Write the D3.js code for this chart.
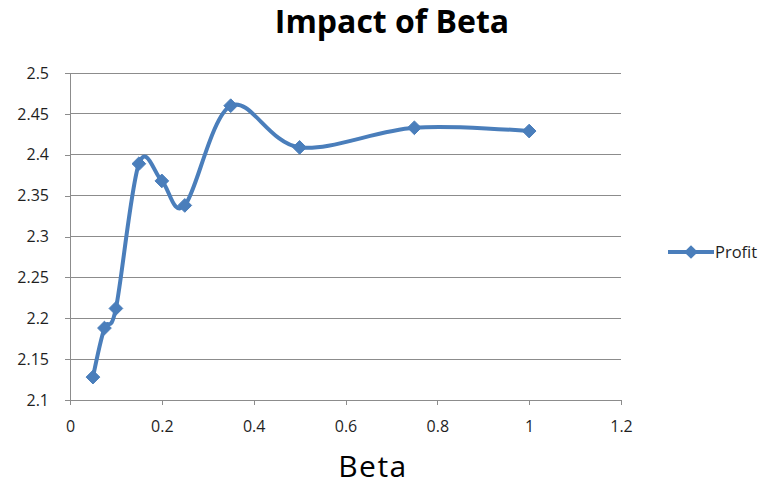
<!DOCTYPE html>
<html>
<head>
<meta charset="utf-8">
<script src="https://cdn.jsdelivr.net/npm/d3@7"></script>
<style>
  html, body { margin: 0; padding: 0; background: #fff; }
  svg { display: block; }
  text { font-family: "Open Sans", "Liberation Sans", sans-serif; }
</style>
</head>
<body>
<script>
// Profit as a function of Beta
const beta = [0.05, 0.075, 0.1, 0.15, 0.2, 0.25, 0.35, 0.5, 0.75, 1.0];
const profit = [2.128, 2.188, 2.212, 2.389, 2.368, 2.338, 2.460, 2.409, 2.433, 2.429];
const xTicks = [0, 0.2, 0.4, 0.6, 0.8, 1, 1.2];
const yTicks = [2.1, 2.15, 2.2, 2.25, 2.3, 2.35, 2.4, 2.45, 2.5];
const seriesName = "Profit";

const W = 769, H = 489;
const plot = { left: 70, right: 621, top: 73, bottom: 400 };
const blue = "#4A7EBB";
const gridColor = "#8c8c8c";

const svg = d3.select("body").append("svg").attr("width", W).attr("height", H);

const x = d3.scaleLinear().domain([0, 1.2]).range([plot.left, plot.right]);
const y = d3.scaleLinear().domain([2.1, 2.5]).range([plot.bottom, plot.top]);

// horizontal gridlines
svg.append("g").selectAll("line").data(yTicks.slice(1)).join("line")
  .attr("x1", plot.left).attr("x2", plot.right)
  .attr("y1", d => y(d)).attr("y2", d => y(d))
  .attr("stroke", gridColor).attr("stroke-width", 1).attr("shape-rendering", "crispEdges");

// y axis
const yAxis = svg.append("g").attr("transform", `translate(${plot.left},0)`)
  .call(d3.axisLeft(y).tickValues(yTicks).tickFormat(d3.format("")).tickSize(5).tickSizeOuter(0).tickPadding(16));
// x axis
const xAxis = svg.append("g").attr("transform", `translate(0,${plot.bottom})`)
  .call(d3.axisBottom(x).tickValues(xTicks).tickFormat(d3.format("")).tickSize(5).tickSizeOuter(0).tickPadding(16));

[yAxis, xAxis].forEach(g => {
  g.selectAll("path, line").attr("stroke", gridColor).attr("shape-rendering", "crispEdges");
  g.selectAll("text").attr("fill", "#1f1f1f").style("font-size", "16px")
    .style("font-family", '"Open Sans", "Liberation Sans", sans-serif');
});

// smoothed line
const pts = beta.map((b, i) => [b, profit[i]]);
const line = d3.line().x(d => x(d[0])).y(d => y(d[1])).curve(d3.curveCatmullRom.alpha(0));
svg.append("path").datum(pts).attr("d", line)
  .attr("fill", "none").attr("stroke", blue).attr("stroke-width", 4).attr("stroke-linejoin", "round");

// diamond markers
const diamond = d3.symbol().type(d3.symbolDiamond2).size(120);
svg.append("g").selectAll("path").data(pts).join("path")
  .attr("d", diamond)
  .attr("transform", d => `translate(${x(d[0])},${y(d[1])})`)
  .attr("fill", blue).attr("stroke", blue).attr("stroke-width", 1);

// title
svg.append("text").attr("x", 392).attr("y", 33).attr("text-anchor", "middle")
  .style("font-size", "32px").style("font-weight", "bold").attr("fill", "#000")
  .text("Impact of Beta");

// x axis title
svg.append("text").attr("x", 373).attr("y", 477).attr("text-anchor", "middle")
  .style("font-size", "30px").style("letter-spacing", "1.5px").attr("fill", "#000").text("Beta");

// legend
const lg = svg.append("g").attr("transform", "translate(668,252)");
lg.append("line").attr("x1", 0).attr("x2", 46).attr("y1", 0).attr("y2", 0)
  .attr("stroke", blue).attr("stroke-width", 4);
lg.append("path").attr("d", diamond).attr("transform", "translate(23,0)").attr("fill", blue);
lg.append("text").attr("x", 47).attr("y", 6).style("font-size", "16.5px").attr("fill", "#1f1f1f").text(seriesName);
</script>
</body>
</html>
